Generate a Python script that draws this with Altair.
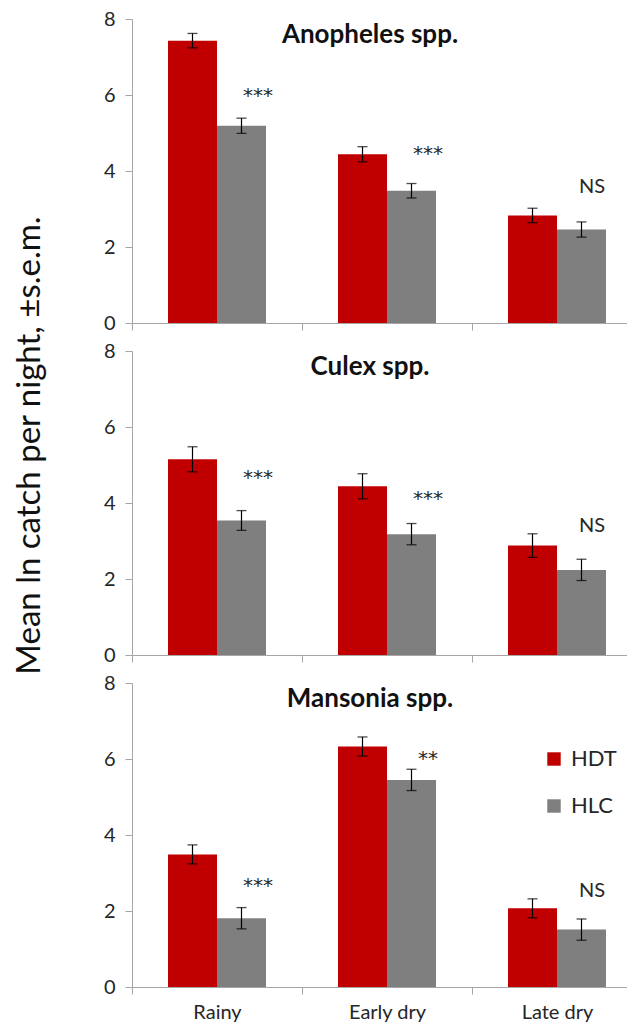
import altair as alt
import pandas as pd

FONT = "Lato"
STAR_FONT = "DejaVu Sans"

seasons = ["Rainy", "Early dry", "Late dry"]
traps = ["HDT", "HLC"]
trap_colors = ["#C00000", "#7F7F7F"]
y_ticks = [0, 2, 4, 6, 8]

# Anopheles spp.
anoph_hdt = [7.43, 4.44, 2.83]
anoph_hdt_se = [0.19, 0.20, 0.19]
anoph_hlc = [5.19, 3.48, 2.46]
anoph_hlc_se = [0.20, 0.19, 0.20]
anoph_sig = ["***", "***", "NS"]
anoph_sig_y = [6.10, 4.57, 3.67]

# Culex spp.
culex_hdt = [5.15, 4.44, 2.88]
culex_hdt_se = [0.33, 0.33, 0.31]
culex_hlc = [3.54, 3.18, 2.24]
culex_hlc_se = [0.26, 0.28, 0.28]
culex_sig = ["***", "***", "NS"]
culex_sig_y = [4.78, 4.25, 3.48]

# Mansonia spp.
manso_hdt = [3.49, 6.33, 2.07]
manso_hdt_se = [0.25, 0.25, 0.25]
manso_hlc = [1.81, 5.45, 1.51]
manso_hlc_se = [0.28, 0.28, 0.28]
manso_sig = ["***", "**", "NS"]
manso_sig_y = [2.78, 6.13, 2.63]

y_title = "Mean ln catch per night, \u00b1s.e.m."

AXIS_COLOR = "#A6A6A6"
TEXT_COLOR = "#262626"

# layout: each season occupies one unit of x; the visible axis is cut at the right
STEP_PX = 170
PLOT_W = 495
BAR_W = 49 / STEP_PX           # bar width as a fraction of a season slot
X_MAX = PLOT_W / STEP_PX        # visible part of the x range (in season slots)

label_expr = "[" + ",".join("'%s'" % s for s in seasons) + "][datum.value]"


def make_df(hdt, hdt_se, hlc, hlc_se):
    rows = []
    for i, (s, m, e) in enumerate(zip(seasons, hdt, hdt_se)):
        rows.append({"idx": i, "season": s, "trap": "HDT", "mean": m, "lo": m - e, "hi": m + e})
    for i, (s, m, e) in enumerate(zip(seasons, hlc, hlc_se)):
        rows.append({"idx": i, "season": s, "trap": "HLC", "mean": m, "lo": m - e, "hi": m + e})
    return pd.DataFrame(rows)


def panel(title, hdt, hdt_se, hlc, hlc_se, sig, sig_y, bottom=False, show_title=False):
    df = make_df(hdt, hdt_se, hlc, hlc_se)
    sig_df = pd.DataFrame({"idx": list(range(len(seasons))), "label": sig, "y": sig_y})
    title_df = pd.DataFrame({"t": [title]})

    x_scale = alt.Scale(domain=[0, X_MAX], nice=False, zero=False, padding=0)
    x_axis = alt.Axis(
        title=None, values=list(range(len(seasons))), labels=bottom,
        labelExpr=label_expr, labelOffset=STEP_PX / 2, labelFlush=False,
        labelAngle=0, labelAlign="center",
        tickSize=7, tickColor=AXIS_COLOR, domainColor=AXIS_COLOR,
        labelFontSize=20, labelFont=FONT, labelColor=TEXT_COLOR, labelPadding=8,
        grid=False, zindex=1,
    )

    axis_kwargs = dict(
        values=y_ticks, grid=False, tickSize=7, tickColor=AXIS_COLOR,
        domainColor=AXIS_COLOR, labelFontSize=20, labelFont=FONT,
        labelColor=TEXT_COLOR, labelPadding=10, labelFlush=False,
    )
    if show_title:
        y_axis = alt.Axis(
            title=y_title, titleFont=FONT, titleFontSize=33,
            titleFontWeight="normal", titleColor="#111111",
            titleAngle=270, titleBaseline="alphabetic", titleAlign="center",
            titleX=-93, titleY=94, **axis_kwargs,
        )
    else:
        y_axis = alt.Axis(title=None, **axis_kwargs)

    y_scale = alt.Scale(domain=[0, 8], nice=False, zero=True, padding=0)
    if bottom:
        legend = alt.Legend(
            title=None, orient="none", legendX=411, legendY=65, direction="vertical",
            symbolType="square", symbolSize=180, symbolStrokeWidth=0,
            labelFont=FONT, labelFontSize=22, labelColor=TEXT_COLOR,
            labelOffset=6, rowPadding=25, padding=0,
        )
    else:
        legend = None
    color = alt.Color("trap:N", sort=traps,
                      scale=alt.Scale(domain=traps, range=trap_colors), legend=legend)

    base = alt.Chart(df).transform_calculate(
        x0="datum.idx + 0.5 + (datum.trap == 'HDT' ? -%f : 0)" % BAR_W,
    ).transform_calculate(
        x1="datum.x0 + %f" % BAR_W,
        xc="datum.x0 + %f" % (BAR_W / 2),
    )
    bars = base.mark_rect().encode(
        x=alt.X("x0:Q", scale=x_scale, axis=x_axis), x2="x1:Q",
        y=alt.Y("mean:Q", scale=y_scale, axis=y_axis), y2=alt.datum(0),
        color=color)
    err = base.mark_rule(color="black", strokeWidth=1.2).encode(
        x="xc:Q", y="lo:Q", y2="hi:Q")
    cap_lo = base.mark_tick(color="black", size=10, thickness=1.3,
                            orient="horizontal").encode(x="xc:Q", y="lo:Q")
    cap_hi = base.mark_tick(color="black", size=10, thickness=1.3,
                            orient="horizontal").encode(x="xc:Q", y="hi:Q")

    sig_base = alt.Chart(sig_df).transform_calculate(xm="datum.idx + 0.5")
    stars = sig_base.transform_filter("datum.label != 'NS'").mark_text(
        dx=41, dy=11, fontSize=20, font=STAR_FONT, color=TEXT_COLOR, baseline="alphabetic"
    ).encode(x="xm:Q", y="y:Q", text="label:N")
    ns = sig_base.transform_filter("datum.label == 'NS'").mark_text(
        dx=35, dy=9.5, fontSize=20, font=FONT, color=TEXT_COLOR, baseline="alphabetic"
    ).encode(x="xm:Q", y="y:Q", text="label:N")
    heading = alt.Chart(title_df).mark_text(
        font=FONT, fontSize=26, fontWeight="bold", color="#111111",
        baseline="middle", dx=-17,
    ).encode(x=alt.X(datum=1.5), y=alt.Y(datum=7.58), text="t:N")

    return alt.layer(bars, err, cap_lo, cap_hi, stars, ns, heading).properties(
        width=PLOT_W, height=304,
    )


p1 = panel("Anopheles spp.", anoph_hdt, anoph_hdt_se, anoph_hlc, anoph_hlc_se,
           anoph_sig, anoph_sig_y)
p2 = panel("Culex spp.", culex_hdt, culex_hdt_se, culex_hlc, culex_hlc_se,
           culex_sig, culex_sig_y, show_title=True)
p3 = panel("Mansonia spp.", manso_hdt, manso_hdt_se, manso_hlc, manso_hlc_se,
           manso_sig, manso_sig_y, bottom=True)

chart = alt.vconcat(p1, p2, p3, spacing=28, bounds="flush").resolve_legend(
    color="independent"
).properties(
    padding={"left": 4, "top": 1, "right": 0, "bottom": 0}
).configure_view(stroke=None)

chart.save("out.html", embed_options={"renderer": "svg", "actions": False})
